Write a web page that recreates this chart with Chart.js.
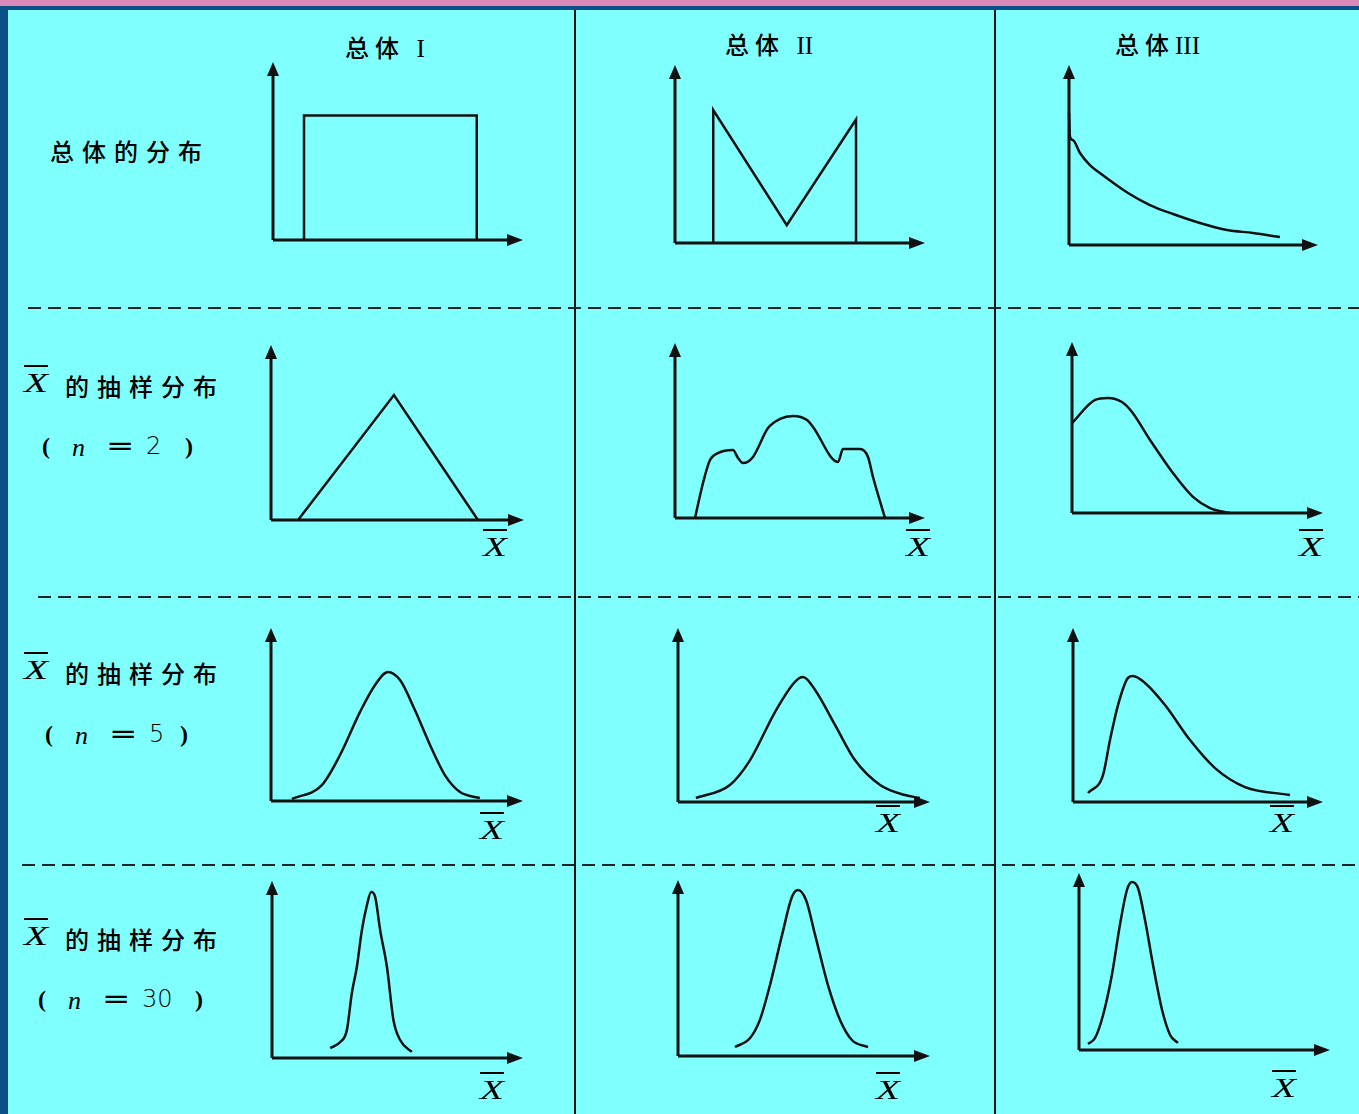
<!DOCTYPE html>
<html lang="zh">
<head>
<meta charset="utf-8">
<title>总体分布与样本均值的抽样分布</title>
<script src="https://cdn.jsdelivr.net/npm/chart.js@4.4.1/dist/chart.umd.min.js"></script>
<style>
  html, body { margin: 0; padding: 0; }
  body {
    width: 1359px; height: 1114px; position: relative; overflow: hidden;
    background: #80ffff; color: #000;
    font-family: "Noto Sans CJK SC", sans-serif;
  }
  .top-band { position: absolute; left: 0; top: 0; width: 100%; height: 6px; background: #d98ab8; }
  .top-rule { position: absolute; left: 0; top: 6px; width: 100%; height: 4px; background: #0b5087; }
  .left-rule { position: absolute; left: 0; top: 6px; width: 8px; height: 1108px; background: #0b5087; }
  .vline { position: absolute; top: 10px; bottom: 0; width: 2px; background: #111; }
  .hdash {
    position: absolute; height: 2px; right: 0;
    background: repeating-linear-gradient(to right, #222 0 13px, transparent 13px 20px);
  }
  .txt {
    position: absolute; font-size: 24px; line-height: 1; white-space: nowrap;
    letter-spacing: 8px; font-weight: 500;
  }
  .title { letter-spacing: 6px; }
  .roman { font-family: "Liberation Serif", serif; font-weight: normal; letter-spacing: 0; font-size: 25px; }
  .xbar {
    position: absolute; display: inline-block;
    font-family: "Liberation Serif", serif; font-style: italic; font-size: 28px; line-height: 1;
    text-decoration: overline; text-decoration-thickness: 2px;
    transform: scaleX(1.4); transform-origin: left center;
  }
  .tok { position: absolute; line-height: 1; white-space: nowrap; }
  .par { font-family: "Liberation Serif", serif; font-weight: bold; font-size: 24px; }
  .nvar { font-family: "Liberation Serif", serif; font-style: italic; font-size: 26px; }
  .eq { font-family: "DejaVu Sans", sans-serif; font-size: 26px; transform: scaleX(1.3); transform-origin: left center; }
  .num { font-family: "DejaVu Sans", sans-serif; font-size: 24px; font-weight: 300; }
  canvas.panel { position: absolute; }
</style>
</head>
<body>
<div class="top-band"></div>
<div class="top-rule"></div>
<div class="left-rule"></div>
<div class="vline" style="left:574px"></div>
<div class="vline" style="left:994px"></div>
<div class="hdash" style="left:28px; top:307px"></div>
<div class="hdash" style="left:38px; top:596px"></div>
<div class="hdash" style="left:22px; top:864px"></div>

<script>
// column titles and row captions
const colTitles = ['总体', '总体', '总体'];
const colNumerals = ['I', 'II', 'III'];
const popCaption = '总体的分布';
const sampleCaption = '的抽样分布';
const sampleSizes = [2, 5, 30];

// every curve is [x, y] in percent of its axis length (0 = origin, 100 = arrow tip)
// population shapes
const popUniform = [[12.4, 0], [12.4, 70], [81.5, 70], [81.5, 0]];
const popTwoPeak = [[15.3, 0], [15.3, 74.7], [44.7, 10], [72.4, 69.4], [72.4, 0]];
const popSkewed = [[0, 73.3], [0.4, 60], [1.6, 58.3], [4.4, 51.1], [8.4, 44.4], [12.4, 40],
  [23.7, 28.9], [32.5, 22.2], [41.8, 17.2], [52.6, 12.2], [63.5, 8.3], [73.9, 6.7], [84.7, 4.4]];

// sample mean, n = 2
const n2Uniform = [[10.7, 0], [48.6, 71.4], [81.8, 0]];
const n2TwoPeak = [[8, 0], [11.2, 20], [14, 33.1], [17.2, 37.1], [23.2, 38.9], [25.2, 34.3],
  [27.2, 31.4], [31.2, 34.9], [37.2, 51.4], [42, 56.6], [47.2, 58.3], [52.8, 56], [55.2, 52],
  [65.2, 32], [67.2, 39.4], [74, 39.4], [77.2, 34.9], [79.2, 23.4], [84, 0]];
const n2Skewed = [[0, 52.6], [9.2, 66.1], [14.3, 67.3], [19.9, 64.9], [23.9, 59.1], [31.1, 42.7],
  [40.2, 23.4], [48.2, 9.4], [55, 2.9], [62.9, 0]];

// sample mean, n = 5
const n5Uniform = [[8.3, 1.2], [20.2, 9.2], [27.4, 26.6], [35.3, 51.4], [41.3, 67.1], [46.4, 74.6],
  [51.2, 69.9], [57.1, 52.6], [63.1, 32.4], [69, 15], [75, 5.2], [82.9, 1.7]];
const n5TwoPeak = [[7.1, 2.3], [20.6, 9.8], [28.6, 24.1], [38.5, 51.7], [46.4, 69], [49.6, 71.8],
  [54.4, 64.4], [62.3, 44.3], [70.2, 24.1], [80.2, 9.8], [90.1, 4], [96, 2.3]];
const n5Skewed = [[6, 5.2], [12, 15.5], [14.8, 35.6], [18, 55.7], [22, 71.3], [24, 72.4],
  [28.8, 68.4], [36.8, 55.7], [46.8, 35.6], [56.8, 19.5], [68.8, 8.6], [86.8, 4]];

// sample mean, n = 30
const n30Uniform = [[23.2, 5.6], [27.2, 9], [29.8, 15.6], [31.8, 36.6], [33.8, 51.4], [35.8, 72.1],
  [37.8, 86.3], [39.5, 93.8], [41.1, 91], [43.1, 72.1], [45.8, 51.4], [48.4, 21.3], [51.1, 10], [55.7, 3.4]];
const n30TwoPeak = [[22.6, 5.1], [28.6, 10.2], [32.5, 20.5], [36.5, 40.3], [41.3, 68.8], [45.2, 90.3],
  [47.6, 94.3], [50.8, 88.6], [54.4, 68.8], [59.5, 40.3], [64.3, 20.5], [69, 9.1], [75.4, 5.1]];
const n30Skewed = [[3.6, 3.4], [6.4, 6.8], [9.6, 19.8], [13.1, 42.4], [16.3, 70.6], [19.1, 90.4],
  [21.1, 94.9], [23.5, 91.5], [26.3, 73.4], [29.5, 48], [33.1, 22.6], [36.3, 8.5], [39.4, 4]];

// where each small plot sits on the page: origin (x0, y0), arrow tips (x1, y1)
const PAD = 12;
const panels = [
  { pts: popUniform, x0: 273, x1: 523, y0: 240, y1: 62, straight: true },
  { pts: popTwoPeak, x0: 675, x1: 925, y0: 243, y1: 65, straight: true },
  { pts: popSkewed,  x0: 1069, x1: 1318, y0: 245, y1: 65 },
  { pts: n2Uniform,  x0: 271, x1: 524, y0: 520, y1: 345, straight: true, xlab: [483, 547] },
  { pts: n2TwoPeak,  x0: 675, x1: 925, y0: 518, y1: 343, xlab: [906, 547] },
  { pts: n2Skewed,   x0: 1072, x1: 1323, y0: 513, y1: 342, xlab: [1299, 547] },
  { pts: n5Uniform,  x0: 271, x1: 523, y0: 801, y1: 628, xlab: [480, 830] },
  { pts: n5TwoPeak,  x0: 678, x1: 930, y0: 802, y1: 628, xlab: [876, 823] },
  { pts: n5Skewed,   x0: 1073, x1: 1323, y0: 802, y1: 628, xlab: [1270, 823] },
  { pts: n30Uniform, x0: 272, x1: 523, y0: 1058, y1: 881, xlab: [480, 1090] },
  { pts: n30TwoPeak, x0: 678, x1: 930, y0: 1056, y1: 880, xlab: [876, 1090] },
  { pts: n30Skewed,  x0: 1079, x1: 1330, y0: 1050, y1: 873, xlab: [1272, 1088] }
];

// axes with arrowheads, drawn from the chart's own scales
const axisArrows = {
  id: 'axisArrows',
  beforeDatasetsDraw(chart) {
    const { ctx, scales: { x, y } } = chart;
    const ox = x.getPixelForValue(0), oy = y.getPixelForValue(0);
    const ex = x.getPixelForValue(100), ey = y.getPixelForValue(100);
    ctx.save();
    ctx.strokeStyle = '#111';
    ctx.fillStyle = '#111';
    ctx.lineWidth = 3;
    ctx.beginPath();
    ctx.moveTo(ox, oy); ctx.lineTo(ex - 10, oy);
    ctx.moveTo(ox, oy); ctx.lineTo(ox, ey + 10);
    ctx.stroke();
    ctx.beginPath();
    ctx.moveTo(ex, oy); ctx.lineTo(ex - 16, oy - 6); ctx.lineTo(ex - 16, oy + 6); ctx.closePath();
    ctx.moveTo(ox, ey); ctx.lineTo(ox - 6, ey + 14); ctx.lineTo(ox + 6, ey + 14); ctx.closePath();
    ctx.fill();
    ctx.restore();
  }
};

// place a piece of text with its vertical centre at cy
function put(html, cls, left, cy) {
  const d = document.createElement('div');
  d.className = cls;
  d.style.left = left + 'px';
  d.innerHTML = html;
  document.body.appendChild(d);
  d.style.top = (cy - d.offsetHeight / 2) + 'px';
  return d;
}

const xbar = (left, cy) => put('X', 'xbar', left, cy);

// titles over the three columns
put(colTitles[0] + ' <span class="roman">' + colNumerals[0] + '</span>', 'txt title', 345, 48);
put(colTitles[1] + ' <span class="roman">' + colNumerals[1] + '</span>', 'txt title', 725, 45);
put(colTitles[2] + '<span class="roman">' + colNumerals[2] + '</span>', 'txt title', 1115, 45);

// row captions
put(popCaption, 'txt', 50, 151);
const capRows = [
  { cy: 386, ny: 446, left: 42, close: 185 },
  { cy: 673, ny: 734, left: 45, close: 180 },
  { cy: 939, ny: 999, left: 38, close: 195 }
];
capRows.forEach((r, i) => {
  xbar(24, r.cy - 3);
  put(sampleCaption, 'txt', 65, r.cy);
  put('(', 'tok par', r.left, r.ny);
  put('n', 'tok nvar', r.left + 30, r.ny + 2);
  put('=', 'tok eq', r.left + 64, r.ny);
  put(String(sampleSizes[i]), 'tok num', r.left + 104, r.ny);
  put(')', 'tok par', r.close, r.ny);
});

panels.forEach(p => {
  const cv = document.createElement('canvas');
  cv.className = 'panel';
  const w = p.x1 - p.x0 + 2 * PAD, h = p.y0 - p.y1 + 2 * PAD;
  cv.width = w; cv.height = h;
  cv.style.left = (p.x0 - PAD) + 'px';
  cv.style.top = (p.y1 - PAD) + 'px';
  cv.style.width = w + 'px';
  cv.style.height = h + 'px';
  document.body.appendChild(cv);

  new Chart(cv.getContext('2d'), {
    type: 'line',
    data: {
      datasets: [{
        data: p.pts.map(([x, y]) => ({ x, y })),
        borderColor: '#111',
        borderWidth: 2.5,
        pointRadius: 0,
        fill: false,
        tension: p.straight ? 0 : 0.4,
        cubicInterpolationMode: p.straight ? 'default' : 'monotone',
        clip: false
      }]
    },
    options: {
      responsive: false,
      animation: false,
      events: [],
      layout: { padding: PAD },
      plugins: { legend: { display: false }, tooltip: { enabled: false } },
      scales: {
        x: { type: 'linear', min: 0, max: 100, display: false },
        y: { type: 'linear', min: 0, max: 100, display: false }
      }
    },
    plugins: [axisArrows]
  });

  if (p.xlab) xbar(p.xlab[0], p.xlab[1]);
});
</script>
</body>
</html>
